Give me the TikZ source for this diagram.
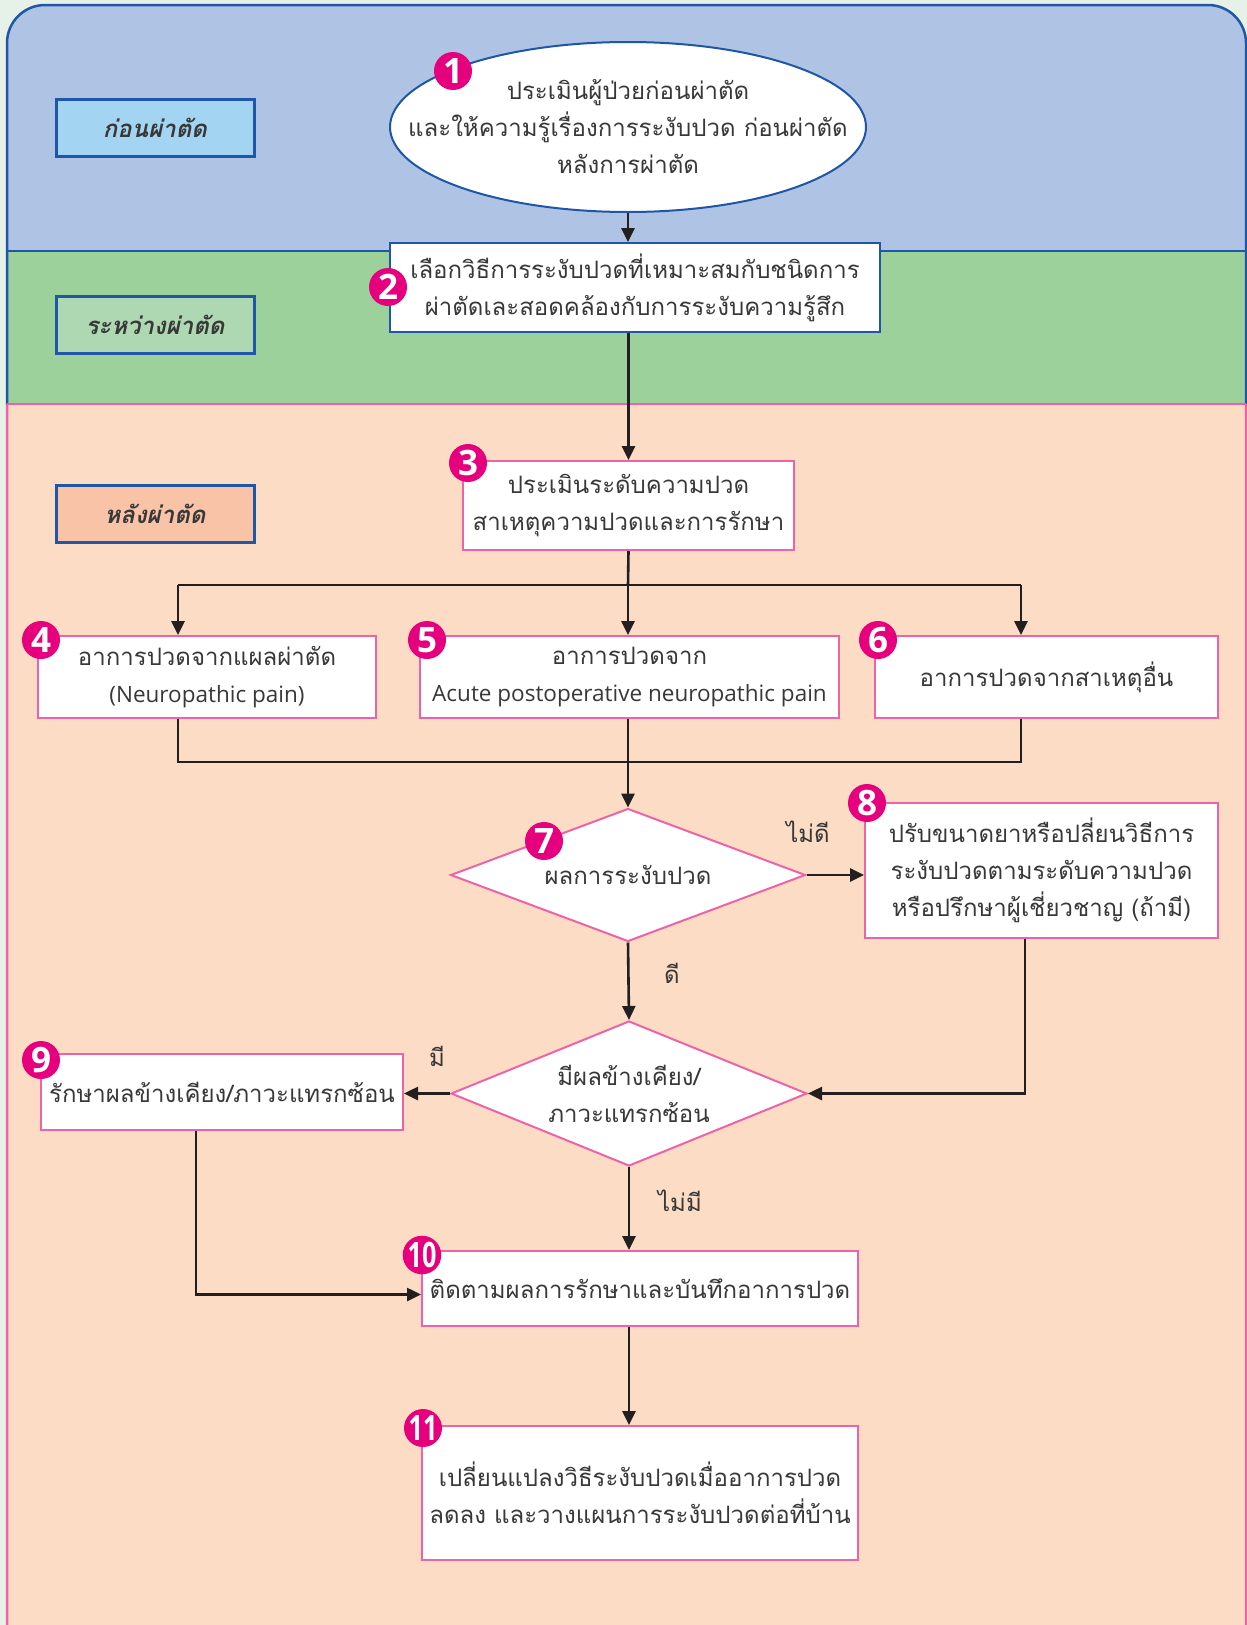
\documentclass[tikz,border=0pt]{standalone}
\usepackage{fontspec}
\setmainfont[Script=Thai]{Loma}
\newfontfamily\latinfont{Open Sans}
\newfontfamily\badgefont{Open Sans}
\usetikzlibrary{shapes.geometric,arrows.meta,positioning}

\definecolor{pagebg}{HTML}{E6F2E8}
\definecolor{panelblue}{HTML}{AFC4E4}
\definecolor{panelgreen}{HTML}{9DD19C}
\definecolor{panelpeach}{HTML}{FCDCC5}
\definecolor{frameblue}{HTML}{1F56A5}
\definecolor{framepink}{HTML}{EE63A8}
\definecolor{tagblue}{HTML}{A3D4F1}
\definecolor{taggreen}{HTML}{ADD8B2}
\definecolor{tagpeach}{HTML}{F9C3A8}
\definecolor{badgemag}{HTML}{E6007E}
\definecolor{textgray}{HTML}{383838}
\definecolor{linedark}{HTML}{231F20}

\tikzset{
  every node/.style={font=\fontsize{24}{37}\selectfont, text=textgray},
  box/.style={draw=framepink, line width=2pt, fill=white, align=center, inner sep=0pt},
  bluebox/.style={box, draw=frameblue},
  choice/.style={diamond, draw=framepink, line width=2pt, fill=white, inner sep=0pt},
  stagetag/.style={draw=frameblue, line width=3pt, minimum width=198pt, minimum height=57pt,
    font=\fontsize{24}{30}\selectfont\bfseries\itshape},
  badge/.style={circle, fill=badgemag, inner sep=0pt, minimum size=38pt,
    text=white, font=\badgefont\fontsize{35}{35}\selectfont\bfseries},
  flow/.style={draw=linedark, line width=2.6pt, -{Triangle[length=14pt,width=13pt]}},
  link/.style={draw=linedark, line width=2.6pt},
  answer/.style={font=\fontsize{24}{30}\selectfont}
}

\begin{document}
\begin{tikzpicture}[x=1pt,y=-1pt]
  \useasboundingbox[fill=pagebg] (0,0) rectangle (1247,1625);

  % stage panels
  \begin{scope}
    \clip[rounded corners=38pt] (7,5) rectangle (1246,1665);
    \fill[panelblue] (0,0) rectangle (1247,251);
    \fill[panelgreen] (0,251) rectangle (1247,404);
    \fill[panelpeach] (0,404) rectangle (1247,1665);
  \end{scope}
  \begin{scope}
    \clip (0,0) rectangle (1247,404);
    \draw[frameblue, line width=2.5pt, rounded corners=38pt] (7,5) rectangle (1246,1665);
  \end{scope}
  \begin{scope}
    \clip (0,404) rectangle (1247,1700);
    \draw[framepink, line width=2.5pt, rounded corners=38pt] (7,5) rectangle (1246,1665);
  \end{scope}
  \draw[frameblue, line width=2pt] (7,251) -- (1246,251);
  \draw[framepink, line width=2pt] (7,404) -- (1246,404);

  % stage tags
  \node[stagetag, fill=tagblue] (preop) at (155,127.5) {ก่อนผ่าตัด};
  \node[stagetag, fill=taggreen] (intraop) at (155,324.5) {ระหว่างผ่าตัด};
  \node[stagetag, fill=tagpeach] (postop) at (155,513.5) {หลังผ่าตัด};

  % steps
  \node[ellipse, draw=frameblue, line width=2pt, fill=white, inner sep=0pt,
    minimum width=476pt, minimum height=170pt,
    label={[align=center]center:ประเมินผู้ป่วยก่อนผ่าตัด\\และให้ความรู้เรื่องการระงับปวด ก่อนผ่าตัด\\หลังการผ่าตัด}]
    (e1) at (628,127) {};
  \node[bluebox, minimum width=490pt, minimum height=89pt] (b2) at (635,287.5)
    {เลือกวิธีการระงับปวดที่เหมาะสมกับชนิดการ\\ผ่าตัดเละสอดคล้องกับการระงับความรู้สึก};
  \node[box, minimum width=331pt, minimum height=89pt] (b3) at (628.5,505.5)
    {ประเมินระดับความปวด\\สาเหตุความปวดและการรักษา};
  \node[box, minimum width=338pt, minimum height=82pt] (b4) at (207,677)
    {อาการปวดจากแผลผ่าตัด\\{\latinfont\fontsize{22.5}{37}\selectfont (Neuropathic pain)}};
  \node[box, minimum width=419pt, minimum height=82pt] (b5) at (629.5,677)
    {อาการปวดจาก\\{\latinfont\fontsize{22.5}{37}\selectfont Acute postoperative neuropathic pain}};
  \node[box, minimum width=343pt, minimum height=82pt] (b6) at (1046.5,677)
    {อาการปวดจากสาเหตุอื่น};
  \node[choice, minimum width=355pt, minimum height=133pt,
    label={center:ผลการระงับปวด}] (d7) at (628,875) {};
  \node[box, minimum width=353pt, minimum height=135pt] (b8) at (1041.5,870.5)
    {ปรับขนาดยาหรือปลี่ยนวิธีการ\\ระงับปวดตามระดับความปวด\\หรือปรึกษาผู้เชี่ยวชาญ (ถ้ามี)};
  \node[choice, minimum width=356pt, minimum height=145pt,
    label={[align=center]center:มีผลข้างเคียง/\\ภาวะแทรกซ้อน}] (d9) at (629,1093.5) {};
  \node[box, minimum width=362pt, minimum height=76pt] (b9) at (222,1092)
    {รักษาผลข้างเคียง/ภาวะแทรกซ้อน};
  \node[box, minimum width=436pt, minimum height=75pt] (b10) at (640,1288.5)
    {ติดตามผลการรักษาและบันทึกอาการปวด};
  \node[box, minimum width=436pt, minimum height=134pt] (b11) at (640,1493)
    {เปลี่ยนแปลงวิธีระงับปวดเมื่ออาการปวด\\ลดลง และวางแผนการระงับปวดต่อที่บ้าน};

  % badges
  \node[badge] (n1) at (453,71) {1};
  \node[badge] (n2) at (388,287) {2};
  \node[badge] (n3) at (468,463) {3};
  \node[badge] (n4) at (41,640) {4};
  \node[badge] (n5) at (427,640) {5};
  \node[badge] (n6) at (878,640) {6};
  \node[badge] (n7) at (544,841) {7};
  \node[badge] (n8) at (867,803) {8};
  \node[badge] (n9) at (41,1060) {9};
  \node[badge] (n10) at (422,1255) {\scalebox{0.72}[1]{10}};
  \node[badge] (n11) at (423,1428) {\scalebox{0.72}[1]{11}};

  % answers
  \node[answer] (notgood) at (808,832) {ไม่ดี};
  \node[answer] (good) at (672,973) {ดี};
  \node[answer] (yes) at (437,1056) {มี};
  \node[answer] (no) at (680,1201) {ไม่มี};

  % connectors
  \coordinate (split) at (628,585);
  \coordinate (splitL) at (178,585);
  \coordinate (splitR) at (1021,585);
  \coordinate (merge) at (628,762);
  \coordinate (mergeL) at (178,762);
  \coordinate (mergeR) at (1021,762);
  \coordinate (back8) at (1025,0);
  \coordinate (down9) at (196,0);

  \draw[flow] (e1.south) -- (e1.south |- b2.north);
  \draw[flow] (b3.north |- b2.south) -- (b3.north);
  \draw[link] (b3.south) -- (split);
  \draw[link] (splitL) -- (splitR);
  \draw[flow] (splitL) -- (splitL |- b4.north);
  \draw[flow] (split) -- (split |- b5.north);
  \draw[flow] (splitR) -- (splitR |- b6.north);
  \draw[link] (mergeL |- b4.south) -- (mergeL) -- (mergeR) -- (mergeR |- b6.south);
  \draw[link] (merge |- b5.south) -- (merge);
  \draw[flow] (merge) -- (d7.north);
  \draw[flow] (d7.east) -- (d7.east -| b8.west);
  \draw[flow] (d7.south) -- (d9.north);
  \draw[flow] (back8 |- b8.south) |- (d9.east);
  \draw[flow] (d9.west) -- (d9.west -| b9.east);
  \draw[flow] (d9.south) -- (d9.south |- b10.north);
  \draw[flow] (down9 |- b9.south) |- ([yshift=-6pt]b10.west);
  \draw[flow] (d9.south |- b10.south) -- (d9.south |- b11.north);
\end{tikzpicture}
\end{document}
